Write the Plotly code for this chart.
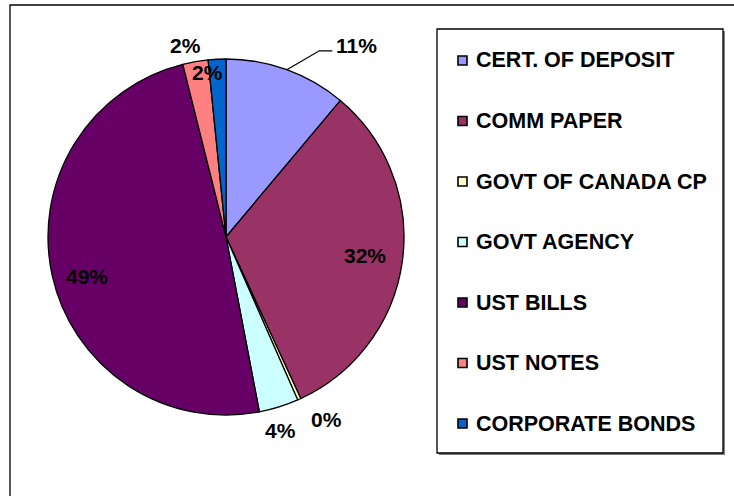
import math
import plotly.graph_objects as go

# ---- data ----
categories = ["CERT. OF DEPOSIT", "COMM PAPER", "GOVT OF CANADA CP", "GOVT AGENCY",
              "UST BILLS", "UST NOTES", "CORPORATE BONDS"]
shares = [11.1, 32.0, 0.3, 3.6, 49.1, 2.3, 1.6]
colors = ["#9999FF", "#993366", "#FFFFCC", "#CCFFFF", "#660066", "#FF8080", "#0066CC"]

# ---- layout geometry (pixels) ----
W, H = 734, 496
CX, CY, R = 226, 237, 178

# label placement: (angle offset in degrees, radius factor)
label_place = [(14.3, 1.30), (0.0, 0.79), (-4.4, 1.17), (1.7, 1.13),
               (-3.3, 0.81), (-2.1, 1.10), (-3.6, 0.93)]

FONT = "Arial, Liberation Sans, sans-serif"


def px(x):
    return x / W


def py(y):
    return 1 - y / H


fig = go.Figure(go.Pie(
    labels=categories, values=shares, sort=False, direction="clockwise", rotation=0,
    marker=dict(colors=colors, line=dict(color="black", width=1.3)),
    textinfo="none", hoverinfo="label+percent", showlegend=False,
    domain=dict(x=[px(CX - R), px(CX + R)], y=[py(CY + R), py(CY - R)]),
))

annotations = []
shapes = []

# outer frame
shapes.append(dict(type="rect", xref="paper", yref="paper", x0=px(10), x1=1.05,
                   y0=-0.05, y1=py(5), line=dict(color="black", width=1.3), layer="below"))

total = sum(shares)
cum = 0.0
for i, v in enumerate(shares):
    mid = (cum + v / 2) / total * 360
    cum += v
    off, rf = label_place[i]
    a = math.radians(mid + off)
    lx = CX + R * rf * math.sin(a)
    ly = CY - R * rf * math.cos(a)
    pct = f"{round(v / total * 100)}%"
    annotations.append(dict(x=px(lx), y=py(ly), xref="paper", yref="paper", text=pct,
                            showarrow=False, xanchor="center", yanchor="middle",
                            font=dict(family=FONT, size=21, color="black", weight="bold")))
    if rf > 1.2:
        am = math.radians(mid)
        sx = CX + R * math.sin(am)
        sy = CY - R * math.cos(am)
        ex, ey = lx - 37, ly + 5
        shapes.append(dict(type="path", xref="paper", yref="paper",
                           path=f"M {px(sx)},{py(sy)} L {px(ex)},{py(ey)} L {px(ex + 13)},{py(ey)}",
                           line=dict(color="black", width=1.3)))

# legend box with shadow
LX0, LY0, LX1, LY1 = 437, 29, 723, 453
shapes.append(dict(type="rect", xref="paper", yref="paper", x0=px(LX0 + 2), x1=px(LX1 + 2),
                   y0=py(LY1 + 2), y1=py(LY0 + 2), line=dict(width=0), fillcolor="#808080"))
shapes.append(dict(type="rect", xref="paper", yref="paper", x0=px(LX0), x1=px(LX1),
                   y0=py(LY1), y1=py(LY0), line=dict(color="black", width=1.3),
                   fillcolor="white"))
for i, (name, col) in enumerate(zip(categories, colors)):
    yc = 60.5 + 60.5 * i
    shapes.append(dict(type="rect", xref="paper", yref="paper", x0=px(458), x1=px(467),
                       y0=py(yc + 4.5), y1=py(yc - 4.5), fillcolor=col,
                       line=dict(color="black", width=1.6)))
    annotations.append(dict(x=px(474), y=py(yc), xref="paper", yref="paper", text=name,
                            showarrow=False, xanchor="left", yanchor="middle",
                            font=dict(family=FONT, size=21.5, color="black", weight="bold")))

fig.update_layout(width=W, height=H, margin=dict(l=0, r=0, t=0, b=0),
                  paper_bgcolor="white", plot_bgcolor="white",
                  shapes=shapes, annotations=annotations)

fig.write_html("out.html", config={"displayModeBar": False},
               post_script="document.body.style.margin='0';document.body.style.padding='0';")
